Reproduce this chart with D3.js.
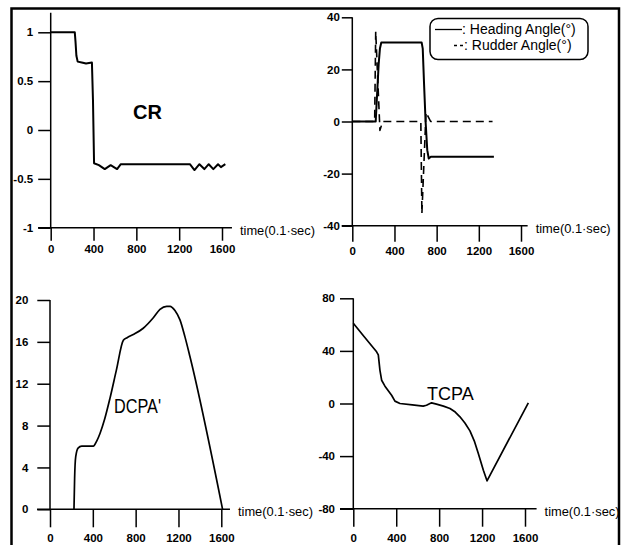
<!DOCTYPE html>
<html>
<head>
<meta charset="utf-8">
<script src="https://cdn.jsdelivr.net/npm/d3@7"></script>
<style>
  body { margin: 0; background: #fff; }
  svg { display: block; }
  .tick text { font-family: "Liberation Sans Narrow", "Arial Narrow", "Liberation Sans", Arial, sans-serif; font-weight: bold; font-size: 11.5px; fill: #000; }
  .tick line { stroke: #000; stroke-width: 1.5; }
</style>
</head>
<body>
<div id="chart"></div>
<script>
var width = 627,
    height = 545;

// ---- data (time in 0.1 sec) ----
var timeTicks = [0, 400, 800, 1200, 1600];
var crTicks = [-1, -0.5, 0, 0.5, 1];
var angleTicks = [-40, -20, 0, 20, 40];
var dcpaTicks = [0, 4, 8, 12, 16, 20];
var tcpaTicks = [-80, -40, 0, 40, 80];

var crData = [[0, 1], [225, 1], [232, 0.9], [240, 0.76], [252, 0.7], [290, 0.69], [330, 0.68], [385, 0.69],
    [395, 0.3], [405, -0.34], [450, -0.36], [505, -0.40], [560, -0.36], [620, -0.40], [655, -0.35],
    [1300, -0.35], [1343, -0.41], [1389, -0.35], [1435, -0.40], [1476, -0.35], [1519, -0.40],
    [1563, -0.35], [1590, -0.38], [1631, -0.35]];

var headingData = [[0, 0], [222, 0], [232, 8], [250, 22], [262, 28], [275, 30.3], [658, 30.3], [668, 28],
    [680, 15], [695, 0], [711, -11], [725, -14.2], [745, -13.5], [1343, -13.5]];

var rudderData = [[0, 0], [212, 0], [222, 34.5], [262, -3.4], [288, 0], [650, 0], [660, -35.3],
    [699, 3.5], [743, 0], [1330, 0]];

var dcpaData = [[224, 0], [230, 3], [240, 5], [262, 5.85], [296, 6.04], [405, 6.04], [435, 6.5],
    [467, 7.25], [510, 8.6], [560, 10.6], [620, 13.3], [685, 16.15], [720, 16.4], [778, 16.7],
    [871, 17.3], [965, 18.3], [1027, 19.1], [1090, 19.4], [1121, 19.4], [1167, 19.0], [1214, 18.1],
    [1260, 16.5], [1307, 14.6], [1612, 0]];

var tcpaData = [[0, 61], [100, 51], [217, 39.3], [233, 37], [248, 25.4], [264, 17.7], [295, 13.2],
    [357, 6.3], [388, 1.8], [435, 0], [550, -1], [651, -2], [682, -1.3], [729, 0.5], [775, -0.5],
    [840, -2], [901, -3.8], [950, -6.5], [994, -10.1], [1040, -14.8], [1087, -20.8], [1130, -29],
    [1165, -38], [1212, -50.7], [1246, -58.8], [1631, 0.5]];

var svg = d3.select("#chart").append("svg")
    .attr("width", width)
    .attr("height", height);

// outer frame (open at the bottom)
svg.append("path")
    .attr("d", "M11.5,546 L11.5,8.5 L619,8.5 L619,546")
    .attr("fill", "none")
    .attr("stroke", "#000")
    .attr("stroke-width", 2.5);

function DrawPanel(p) {
    var g = svg.append("g");
    var x = d3.scaleLinear().domain([0, 1600]).range(p.xr);
    var y = d3.scaleLinear().domain(p.yd).range(p.yr);

    // axis lines
    g.append("line")
        .attr("x1", x(p.xExt[0])).attr("x2", x(p.xExt[1]))
        .attr("y1", y(p.yd[0])).attr("y2", y(p.yd[0]))
        .attr("stroke", "#000").attr("stroke-width", 1.5);
    g.append("line")
        .attr("x1", x(0)).attr("x2", x(0))
        .attr("y1", y(p.yExt[1])).attr("y2", y(p.yExt[0]))
        .attr("stroke", "#000").attr("stroke-width", 1.5);

    g.append("g")
        .attr("transform", "translate(0," + y(p.yd[0]) + ")")
        .call(d3.axisBottom(x).tickValues(timeTicks).tickSize(p.xTick).tickPadding(p.xPad).tickSizeOuter(0)
            .tickFormat(d => String(d)))
        .call(a => a.select(".domain").remove());

    g.append("g")
        .attr("transform", "translate(" + x(0) + ",0)")
        .call(d3.axisLeft(y).tickValues(p.yTicks).tickSize(p.yTick).tickPadding(p.yPad).tickSizeOuter(0)
            .tickFormat(d => String(d)))
        .call(a => a.select(".domain").remove());

    g.append("text")
        .attr("x", x(p.xExt[1]) + 8)
        .attr("y", y(p.yd[0]) + 7)
        .attr("font-family", "Liberation Sans, Arial, sans-serif")
        .attr("font-size", 12.5)
        .attr("textLength", 75)
        .attr("lengthAdjust", "spacingAndGlyphs")
        .text("time(0.1\u00b7sec)");

    for (let s of p.series) {
        let line = d3.line()
            .x(d => x(d[0]))
            .y(d => y(d[1]))
            .curve(s.curve || d3.curveLinear);
        g.append("path")
            .attr("d", line(s.data))
            .attr("fill", "none")
            .attr("stroke", "#000")
            .attr("stroke-width", s.w)
            .attr("stroke-linejoin", "round")
            .attr("stroke-dasharray", s.dash || null);
    }
    return { x: x, y: y };
}

// CR
DrawPanel({
    xr: [50.7, 222], yd: [-1, 1], yr: [227.7, 32.3],
    xExt: [-118, 1693], yExt: [-1, 1.2],
    yTicks: crTicks, xTick: 13, xPad: 4, yTick: 12.5, yPad: 5,
    series: [{ data: crData, w: 2 }]
});
svg.append("text")
    .attr("x", 133).attr("y", 118.5)
    .attr("font-family", "Liberation Sans, Arial, sans-serif")
    .attr("font-weight", "bold").attr("font-size", 20)
    .text("CR");

// heading / rudder angle
DrawPanel({
    xr: [352.3, 521], yd: [-40, 40], yr: [225.7, 17.3],
    xExt: [-100, 1663], yExt: [-40, 40],
    yTicks: angleTicks, xTick: 16, xPad: 5, yTick: 10.5, yPad: 2,
    series: [{ data: headingData, w: 2 }, { data: rudderData, w: 1.6, dash: "8,5" }]
});

// legend
svg.append("rect")
    .attr("x", 430).attr("y", 18.5).attr("width", 158).attr("height", 41)
    .attr("rx", 8).attr("ry", 8)
    .attr("fill", "#fff").attr("stroke", "#000").attr("stroke-width", 1.5);
svg.append("line")
    .attr("x1", 435).attr("x2", 462).attr("y1", 29.5).attr("y2", 29.5)
    .attr("stroke", "#000").attr("stroke-width", 1.3);
svg.append("line")
    .attr("x1", 454).attr("x2", 464).attr("y1", 45.5).attr("y2", 45.5)
    .attr("stroke", "#000").attr("stroke-width", 1.3).attr("stroke-dasharray", "3,3");
svg.append("text")
    .attr("x", 462).attr("y", 34)
    .attr("font-family", "Liberation Sans, Arial, sans-serif").attr("font-size", 14)
    .text(": Heading Angle(\u00b0)");
svg.append("text")
    .attr("x", 464).attr("y", 50)
    .attr("font-family", "Liberation Sans, Arial, sans-serif").attr("font-size", 14)
    .text(": Rudder Angle(\u00b0)");

// DCPA'
DrawPanel({
    xr: [50, 221.3], yd: [0, 20], yr: [509.3, 300],
    xExt: [-121, 1681], yExt: [0, 20],
    yTicks: dcpaTicks, xTick: 18, xPad: 7, yTick: 12.7, yPad: 9,
    series: [{ data: dcpaData, w: 1.7, curve: d3.curveMonotoneX }]
});
svg.append("text")
    .attr("x", 114).attr("y", 413)
    .attr("font-family", "Liberation Sans, Arial, sans-serif").attr("font-size", 20)
    .attr("textLength", 47).attr("lengthAdjust", "spacingAndGlyphs")
    .text("DCPA'");

// TCPA
DrawPanel({
    xr: [353.3, 525], yd: [-80, 80], yr: [508.7, 298.3],
    xExt: [-124, 1708], yExt: [-80, 80],
    yTicks: tcpaTicks, xTick: 18, xPad: 7, yTick: 13.3, yPad: 5,
    series: [{ data: tcpaData, w: 1.7 }]
});
svg.append("text")
    .attr("x", 427).attr("y", 399.5)
    .attr("font-family", "Liberation Sans, Arial, sans-serif").attr("font-size", 18)
    .text("TCPA");
</script>
</body>
</html>
